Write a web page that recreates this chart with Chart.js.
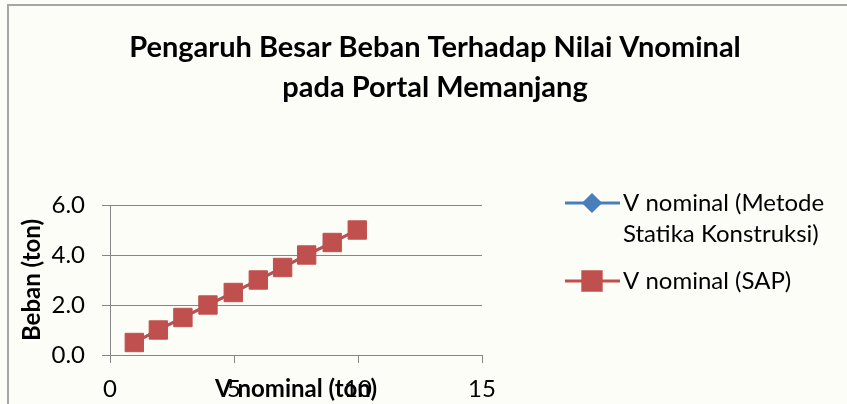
<!DOCTYPE html>
<html>
<head>
<meta charset="utf-8">
<script src="https://cdn.jsdelivr.net/npm/chart.js@4.4.1/dist/chart.umd.min.js"></script>
<style>
  body { margin: 0; background: #fdfdf8; }
  #wrap { position: relative; width: 847px; height: 404px; }
</style>
</head>
<body>
<div id="wrap"><canvas id="bebanChart"></canvas></div>
<script>
// data: V nominal (ton) vs beban (ton)
const bebanValues = [0.5, 1.0, 1.5, 2.0, 2.5, 3.0, 3.5, 4.0, 4.5, 5.0];
const vStatika = [0.98, 1.95, 2.94, 3.95, 4.97, 5.98, 6.96, 7.93, 8.96, 9.97];
const vSap = [0.98, 1.95, 2.94, 3.95, 4.97, 5.98, 6.96, 7.93, 8.96, 9.97];
const seriesNames = ['V nominal (Metode Statika Konstruksi)', 'V nominal (SAP)'];
const legendLines = [['V nominal (Metode', 'Statika Konstruksi)'], ['V nominal (SAP)']];
const titleLines = ['Pengaruh Besar Beban Terhadap Nilai Vnominal', 'pada Portal Memanjang'];

const FONT = 'Lato, "Open Sans", sans-serif';
const BLUE = '#4a7ebb';
const RED = '#c0504d';
const GRID = '#868686';

function toPoints(xs, ys) {
  return xs.map((x, i) => ({ x: x, y: ys[i] }));
}

// fond, cadre et titre
const framePlugin = {
  id: 'frame',
  beforeDraw(chart) {
    const ctx = chart.ctx;
    ctx.save();
    ctx.fillStyle = '#fdfdf8';
    ctx.fillRect(0, 0, chart.width, chart.height);
    ctx.strokeStyle = '#a6a6a6';
    ctx.lineWidth = 2;
    ctx.strokeRect(8, 5, chart.width + 10, chart.height + 10);
    ctx.restore();
  },
  afterDraw(chart) {
    const ctx = chart.ctx;
    ctx.save();
    ctx.fillStyle = '#000';
    ctx.font = 'bold 29px ' + FONT;
    ctx.textAlign = 'center';
    ctx.textBaseline = 'alphabetic';
    titleLines.forEach((t, i) => ctx.fillText(t, 435, 57 + i * 39.5));
    ctx.restore();
  }
};

// légende à droite, texte sur deux lignes
const sideLegend = {
  id: 'sideLegend',
  afterDraw(chart) {
    const ctx = chart.ctx;
    const rows = [203, 281];
    ctx.save();
    chart.data.datasets.forEach((ds, i) => {
      const y = rows[i];
      ctx.strokeStyle = ds.borderColor;
      ctx.lineWidth = 3;
      ctx.beginPath();
      ctx.moveTo(565, y);
      ctx.lineTo(620, y);
      ctx.stroke();
      Chart.helpers.drawPoint(ctx, {
        pointStyle: ds.pointStyle,
        radius: i === 0 ? 8 : 13,
        borderWidth: 1,
        rotation: 0
      }, 592, y);
      ctx.fillStyle = ds.backgroundColor;
      ctx.fill();
      ctx.fillStyle = '#000';
      ctx.font = '24px ' + FONT;
      ctx.textAlign = 'left';
      ctx.textBaseline = 'middle';
      legendLines[i].forEach((t, j) => ctx.fillText(t, 623, y + j * 31));
    });
    ctx.restore();
  }
};

const ctx = document.getElementById('bebanChart').getContext('2d');

const chart = new Chart(ctx, {
  type: 'line',
  data: {
    datasets: [{
      label: seriesNames[0],
      data: toPoints(vStatika, bebanValues),
      borderColor: BLUE,
      backgroundColor: BLUE,
      borderWidth: 3,
      pointStyle: 'rectRot',
      pointRadius: 8,
      pointBorderWidth: 1,
      order: 2 // dessiné sous la série SAP
    }, {
      label: seriesNames[1],
      data: toPoints(vSap, bebanValues),
      borderColor: RED,
      backgroundColor: RED,
      borderWidth: 3,
      pointStyle: 'rect',
      pointRadius: 13,
      pointBorderWidth: 1,
      order: 1
    }]
  },
  options: {
    responsive: true,
    maintainAspectRatio: false,
    animation: false,
    layout: { padding: { left: 10, top: 205, right: 365, bottom: 0 } },
    plugins: {
      legend: { display: false },
      tooltip: { enabled: false }
    },
    scales: {
      x: {
        type: 'linear',
        min: 0,
        max: 15,
        ticks: { stepSize: 5, padding: 12, color: '#000', font: { family: FONT, size: 24 } },
        grid: { drawOnChartArea: false, color: GRID, tickLength: 8 },
        border: { color: GRID },
        title: {
          display: true,
          text: 'V nominal (ton)',
          color: '#000',
          font: { family: FONT, size: 24, weight: 'bold' },
          padding: 0
        },
        afterFit(scale) { scale.height = 49; }
      },
      y: {
        min: 0,
        max: 6,
        ticks: {
          stepSize: 2,
          padding: 17,
          color: '#000',
          font: { family: FONT, size: 24 },
          callback: v => v.toFixed(1)
        },
        grid: { color: GRID, tickLength: 8 },
        border: { color: GRID },
        title: {
          display: true,
          text: 'Beban (ton)',
          color: '#000',
          font: { family: FONT, size: 24, weight: 'bold' },
          padding: { top: 8, bottom: 0 }
        },
        afterFit(scale) { scale.width = 100; }
      }
    }
  },
  plugins: [framePlugin, sideLegend]
});
</script>
</body>
</html>
